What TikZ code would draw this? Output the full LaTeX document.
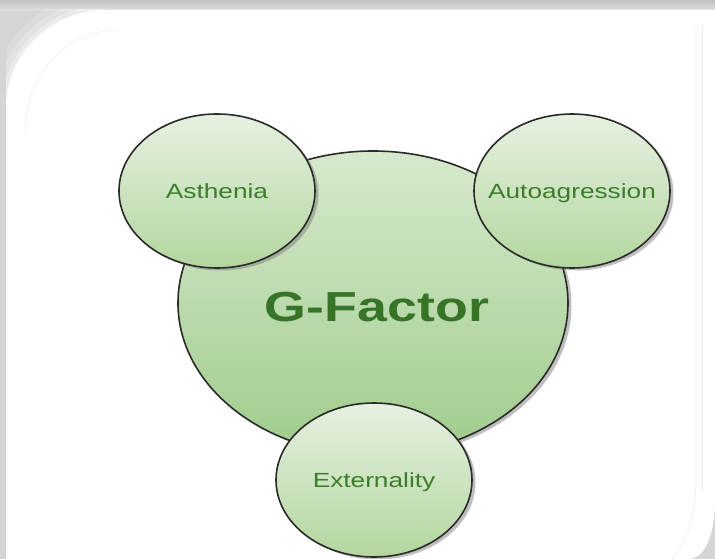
\documentclass[tikz,border=0pt]{standalone}
\usepackage{fontspec}
\setmainfont{Liberation Sans}
\usetikzlibrary{shapes.geometric,shadows}

\definecolor{edgegray}{HTML}{2A2A2A}
\definecolor{labelgreen}{HTML}{3C7E2B}
\definecolor{bigtop}{HTML}{D6E9CD}
\definecolor{bigbottom}{HTML}{A0CC8C}
\definecolor{smalltop}{HTML}{E6F1E1}
\definecolor{smallbottom}{HTML}{B3D69F}
\definecolor{backgray}{HTML}{D5D5D5}

% labels are set a little wider than the font's own shape
\newcommand{\stretchx}[1]{\scalebox{1.28}[1]{#1}}
% outline of the white panel
\newcommand{\panelpath}{(6,559) -- (6,108) arc[start angle=180, end angle=270, x radius=100, y radius=98] -- (715,10) -- (715,500) .. controls (715,532) and (706,559) .. (688,559) -- cycle}
% rounded upper left corner of the panel
\newcommand{\cornerarc}{(6,108) arc[start angle=180, end angle=270, x radius=100, y radius=98]}

\begin{document}
\begin{tikzpicture}[x=1pt, y=-1pt,
  bubble/.style={ellipse, draw=edgegray, line width=1.6pt, inner sep=0pt,
    drop shadow={shadow xshift=3.5pt, shadow yshift=-2.5pt, opacity=0.45, fill=black!55}},
  smallbubble/.style={bubble, top color=smalltop, bottom color=smallbottom,
    minimum width=196pt, minimum height=154pt},
  smalllabel/.style={font=\fontsize{20.5}{24}\selectfont, text=labelgreen,
    text height=14.7pt, text depth=0pt},
  biglabel/.style={font=\fontsize{42}{48}\selectfont\bfseries, text=labelgreen!92!black,
    text height=30pt, text depth=0pt},
  faintline/.style={black!7, line width=0.6pt}]
\useasboundingbox (0,0) rectangle (715,559);

% grey surround with a darker band along the top
\fill[backgray] (0,0) rectangle (715,559);
\shade[top color=black!24, bottom color=black!12] (0,0) rectangle (715,11);

% soft shadow falling off the rounded corner, kept off the strip and band
\begin{scope}
  \clip (6,10) rectangle (715,559);
  \draw[white, line width=34pt, opacity=0.16] \cornerarc;
  \draw[white, line width=20pt, opacity=0.22] \cornerarc;
  \draw[white, line width=9pt, opacity=0.32] \cornerarc;
\end{scope}
\fill[white] \panelpath;

% faint glossy edges of the panel
\draw[faintline] (25,132) arc[start angle=180, end angle=270, x radius=92, y radius=102];
\draw[faintline] (696,25) -- (696,480) .. controls (696,515) and (686,542) .. (672,559);
\draw[faintline] (702,25) -- (702,490);

% central factor and the three facets around it
\node[bubble, top color=bigtop, bottom color=bigbottom,
      minimum width=390pt, minimum height=304pt] (g) at (373,303) {};
\node[biglabel] (gl) at (377,306) {\stretchx{G-Factor}};

\node[smallbubble] (ast) at (217,191) {};
\node[smalllabel] at (ast.center) {\stretchx{Asthenia}};

\node[smallbubble] (aut) at (572,191) {};
\node[smalllabel] at (aut.center) {\stretchx{Autoagression}};

\node[smallbubble] (ext) at (374,480) {};
\node[smalllabel] at (ext.center) {\stretchx{Externality}};
\end{tikzpicture}
\end{document}
